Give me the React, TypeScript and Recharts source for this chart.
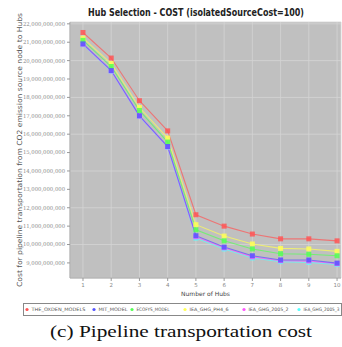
import React from 'react';
import { LineChart, Line, XAxis, YAxis, CartesianGrid } from 'recharts';

const hubs = [1, 2, 3, 4, 5, 6, 7, 8, 9, 10];
const seriesNames = ['THE_OXDEN_MODELS', 'MIT_MODEL', 'ECOFYS_MODEL', 'IEA_GHG_PH4_6', 'IEA_GHG_2005_2', 'IEA_GHG_2005_3'];
const seriesColors = ['#FF5555', '#5555FF', '#55FF55', '#FFFF55', '#FF55FF', '#55FFFF'];
const oxden = [21.53, 20.14, 17.82, 16.18, 11.62, 11.0, 10.57, 10.31, 10.31, 10.2];
const mit = [20.91, 19.46, 17.0, 15.33, 10.48, 9.86, 9.39, 9.16, 9.16, 8.99];
const ecofys = [21.1, 19.68, 17.29, 15.57, 10.8, 10.2, 9.76, 9.5, 9.47, 9.39];
const ieaPh46 = [21.22, 19.84, 17.45, 15.79, 11.08, 10.46, 10.03, 9.79, 9.76, 9.63];
const iea2005_2 = [20.89, 19.44, 16.98, 15.31, 10.42, 9.82, 9.33, 9.12, 9.1, 8.96];
const iea2005_3 = [20.87, 19.42, 16.96, 15.29, 10.35, 9.76, 9.27, 9.07, 9.03, 8.92];
const yTicks = [9, 10, 11, 12, 13, 14, 15, 16, 17, 18, 19, 20, 21, 22].map((v) => v * 1e9);
const title = 'Hub Selection - COST (isolatedSourceCost=100)';
const yLabel = 'Cost for pipeline transportation from CO2 emission source node to Hubs';
const xLabel = 'Number of Hubs';
const caption = '(c) Pipeline transportation cost';

const allSeries = [oxden, mit, ecofys, ieaPh46, iea2005_2, iea2005_3];
const keys = ['s0', 's1', 's2', 's3', 's4', 's5'];
const data = hubs.map((h, i) => {
  const row: any = { hubs: h };
  allSeries.forEach((s, k) => {
    row[keys[k]] = s[i] * 1e9;
  });
  return row;
});

const SquareDot = (color: string) => (props: any) => {
  const { cx, cy } = props;
  if (cx == null || cy == null) return null;
  return <rect x={cx - 2.5} y={cy - 2.5} width={5} height={5} fill={color} fillOpacity={0.85} />;
};

const renderOrder = [5, 4, 3, 2, 1, 0];
const legendMarkerX = [27, 94, 132, 185, 244, 299];
const legendTextLen = [54, 29, 33, 39, 40, 36];

export default function App() {
  return (
    <div style={{ position: 'absolute', left: 0, top: 0, width: 342, height: 347, background: '#fff' }}>
      <LineChart width={342} height={347} data={data} margin={{ top: 22, right: 1, bottom: 0, left: 0 }}>
        <CartesianGrid fill="#C0C0C0" stroke="#d4d4d4" strokeWidth={0.8} />
        <XAxis
          dataKey="hubs"
          type="number"
          domain={[0.54, 10.14]}
          ticks={hubs}
          allowDataOverflow
          height={69}
          tick={{ fontSize: 5.5, fill: '#888', fontFamily: 'DejaVu Sans' }}
          tickLine={{ stroke: '#999' }}
          tickSize={3}
          axisLine={{ stroke: '#aaa' }}
          label={{ value: xLabel, position: 'insideTop', offset: 14, style: { fontSize: 6, fill: '#444', fontFamily: 'DejaVu Sans' } }}
        />
        <YAxis
          type="number"
          domain={[8.18e9, 22.1e9]}
          ticks={yTicks}
          allowDataOverflow
          width={70}
          tick={{ fontSize: 5.3, fill: '#888', fontFamily: 'DejaVu Serif' }}
          tickFormatter={(v: number) => v.toLocaleString('en-US')}
          tickLine={{ stroke: '#999' }}
          tickSize={3}
          axisLine={{ stroke: '#aaa' }}
          label={{
            value: yLabel,
            content: (p: any) => {
              const vb = p.viewBox;
              const x = vb.x + 20;
              const y = vb.y + vb.height / 2;
              return (
                <text x={x} y={y} transform={`rotate(-90 ${x} ${y})`} textAnchor="middle" dominantBaseline="middle" fontSize={7} fill="#555" fontFamily="DejaVu Sans" textLength={274} lengthAdjust="spacingAndGlyphs">
                  {yLabel}
                </text>
              );
            },
          }}
        />
        {renderOrder.map((k) => (
          <Line
            key={keys[k]}
            dataKey={keys[k]}
            name={seriesNames[k]}
            stroke={seriesColors[k]}
            strokeOpacity={0.7}
            strokeWidth={1.1}
            dot={SquareDot(seriesColors[k])}
            isAnimationActive={false}
          />
        ))}
      </LineChart>
      <svg width={342} height={347} style={{ position: 'absolute', left: 0, top: 0, pointerEvents: 'none' }}>
        <text x={196} y={16} textAnchor="middle" fontSize={10.5} fontWeight="bold" fontFamily="DejaVu Sans Condensed, DejaVu Sans" fill="#222" textLength={216} lengthAdjust="spacingAndGlyphs">
          {title}
        </text>
        <rect x={23.5} y={303.5} width={318} height={12} fill="#fff" stroke="#888" strokeWidth={1} />
        {seriesNames.map((n, i) => {
          const mx = legendMarkerX[i];
          return (
            <g key={n}>
              <circle cx={mx} cy={309.5} r={1.6} fill={seriesColors[i]} />
              <text x={mx + 4.5} y={311.3} fontSize={4.6} fill="#555" fontFamily="DejaVu Sans" textLength={legendTextLen[i]} lengthAdjust="spacingAndGlyphs">
                {n}
              </text>
            </g>
          );
        })}
        <text x={181} y={337} textAnchor="middle" fontSize={17} fontFamily="Liberation Serif" fill="#111" textLength={262} lengthAdjust="spacingAndGlyphs">
          {caption}
        </text>
      </svg>
    </div>
  );
}
